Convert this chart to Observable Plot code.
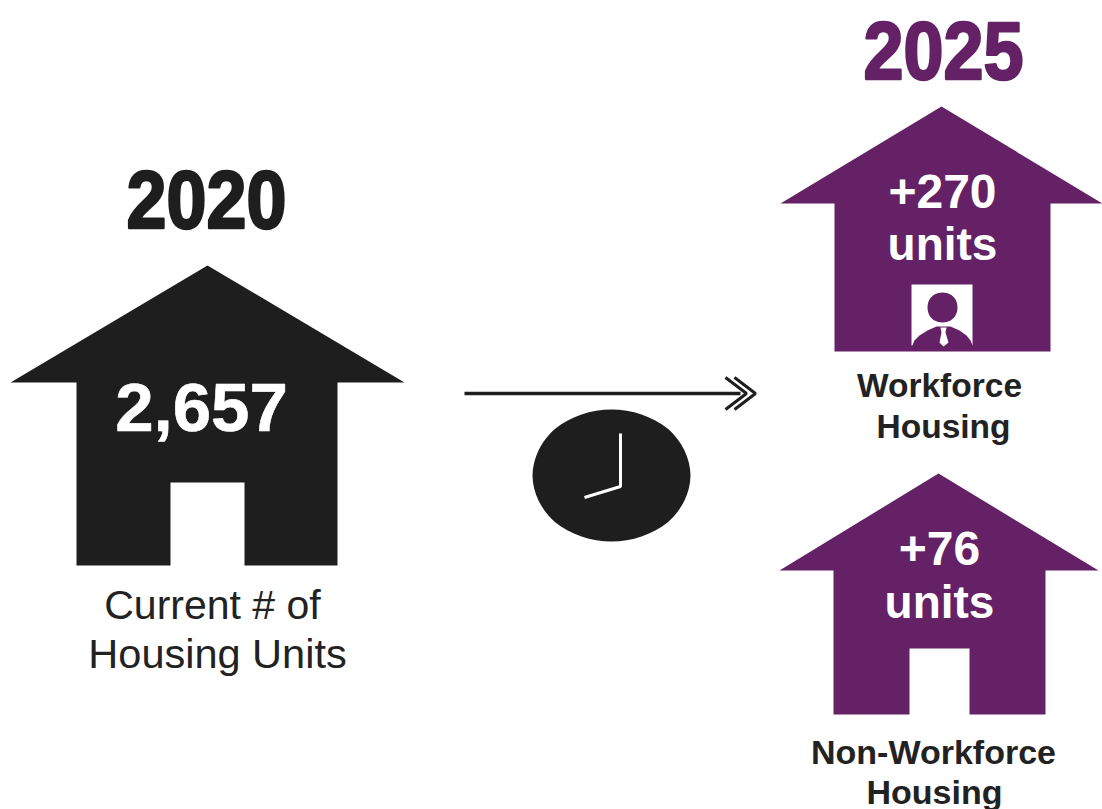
<!DOCTYPE html>
<html><head><meta charset="utf-8">
<style>html,body{margin:0;padding:0;background:#fff}svg{display:block}</style>
<script src="https://cdn.jsdelivr.net/npm/d3@7"></script>
<script src="https://cdn.jsdelivr.net/npm/@observablehq/plot@0.6"></script>
</head><body>
<script>
// Text content
const years = ["2020", "2025"];
const currentUnits = "2,657";
const workforceUnits = "+270";
const nonWorkforceUnits = "+76";
const unitsWord = "units";
const currentLabel = ["Current # of", "Housing Units"];
const workforceLabel = ["Workforce", "Housing"];
const nonWorkforceLabel = ["Non-Workforce", "Housing"];

// Shape outlines as [x, y] in the picture's unit space
const houseCurrent = [[207,265],[404,382],[337,382],[337,565],[244,565],[244,482],[170,482],[170,565],[76,565],[76,382],[10,382]];
const houseWorkforce = [[941,106],[1102,203],[1050,203],[1050,351],[834,351],[834,203],[780,203]];
const houseNonWorkforce = [[938,473],[1098,570],[1045,570],[1045,714],[969,714],[969,648],[909,648],[909,714],[833,714],[833,570],[779,570]];
const iconBox = [[911,284],[972,284],[972,345],[911,345]];
const iconHead = [[942,292],[950,294],[955,299],[957,307],[955,315],[950,320],[942,322],[934,320],[929,315],[927,307],[929,299],[934,294]];
const iconBody = [[911,347],[914,340],[919,335],[927,330],[936,326],[950,326],[959,330],[966,335],[970,340],[973,347]];
const iconTie = [[940,327],[946,327],[945,332],[948,342],[943,346],[939,342],[941,332]];
const clockFace = [[690,475],[684,500],[667,522],[641,536],[611,541],[581,536],[555,522],[538,500],[532,475],[538,450],[555,428],[581,414],[611,409],[641,414],[667,428],[684,450]];
const clockHands = [[620,433],[620,486],[584,497]];
const arrowShaft = [[464,393],[740,393]];
const chevronInner = [[725,377],[746,393],[725,409]];
const chevronOuter = [[734,377],[755,393],[734,409]];

const PURPLE = "#642165", BLACK = "#1f1e1e", INK = "#222222";
const SANS = "'Liberation Sans', Arial, sans-serif";

const X = d => d[0], Y = d => d[1];
const shape = (pts, fill, curve = "linear") => Plot.line(pts, {x: X, y: Y, fill, stroke: "none", curve});
const stroke = (pts, color, w) => Plot.line(pts, {x: X, y: Y, stroke: color, strokeWidth: w, strokeLinejoin: "miter", strokeLinecap: "butt", fill: "none"});
const label = (t, x, y, size, fill, o = {}) => Plot.text([t], {
  x: () => x, y: () => y, text: d => d, fontSize: size, fill,
  fontFamily: SANS, fontWeight: 700, textAnchor: "middle", lineAnchor: "bottom", ...o
});
// Condensed heavy year numerals: no narrow face is installed, so squeeze the bold one
const heavy = (t, x, y, color, w) => label(t, x, y, 82, color, {
  stroke: color, strokeWidth: 2.5,
  render(index, scales, values, dims, context, next) {
    const g = next(index, scales, values, dims, context);
    d3.select(g).selectAll("text").attr("textLength", w).attr("lengthAdjust", "spacingAndGlyphs");
    return g;
  }
});

const chart = Plot.plot({
  width: 1102, height: 809,
  margin: 0,
  style: {background: "#fff"},
  x: {domain: [0, 1102], axis: null},
  y: {domain: [809, 0], axis: null},
  marks: [
    shape(houseCurrent, BLACK),
    shape(houseWorkforce, PURPLE),
    shape(houseNonWorkforce, PURPLE),
    shape(iconBox, "#fff"),
    shape(iconHead, PURPLE, "catmull-rom-closed"),
    shape(iconBody, PURPLE),
    shape(iconTie, "#fff"),
    shape(clockFace, BLACK, "catmull-rom-closed"),
    stroke(clockHands, "#fff", 3),
    stroke(arrowShaft, BLACK, 3.5),
    stroke(chevronInner, BLACK, 3),
    stroke(chevronOuter, BLACK, 3),
    heavy(years[0], 206, 227, BLACK, 160),
    heavy(years[1], 943, 78, PURPLE, 160),
    label(currentUnits, 201, 430, 69, "#fff", {stroke: "#fff", strokeWidth: 0.6}),
    label(workforceUnits, 942, 207, 48, "#fff"),
    label(unitsWord, 942, 259, 46, "#fff"),
    label(nonWorkforceUnits, 939, 564, 48, "#fff"),
    label(unitsWord, 939, 617, 46, "#fff"),
    label(currentLabel[0], 212, 618, 41, INK, {fontWeight: 400}),
    label(currentLabel[1], 217, 667, 41.5, INK, {fontWeight: 400}),
    label(workforceLabel[0], 939, 396, 33.5, INK),
    label(workforceLabel[1], 943, 437, 33.5, INK),
    label(nonWorkforceLabel[0], 933, 763, 34, INK),
    label(nonWorkforceLabel[1], 934, 803, 34, INK)
  ]
});
document.body.appendChild(chart);
</script>
</body></html>
